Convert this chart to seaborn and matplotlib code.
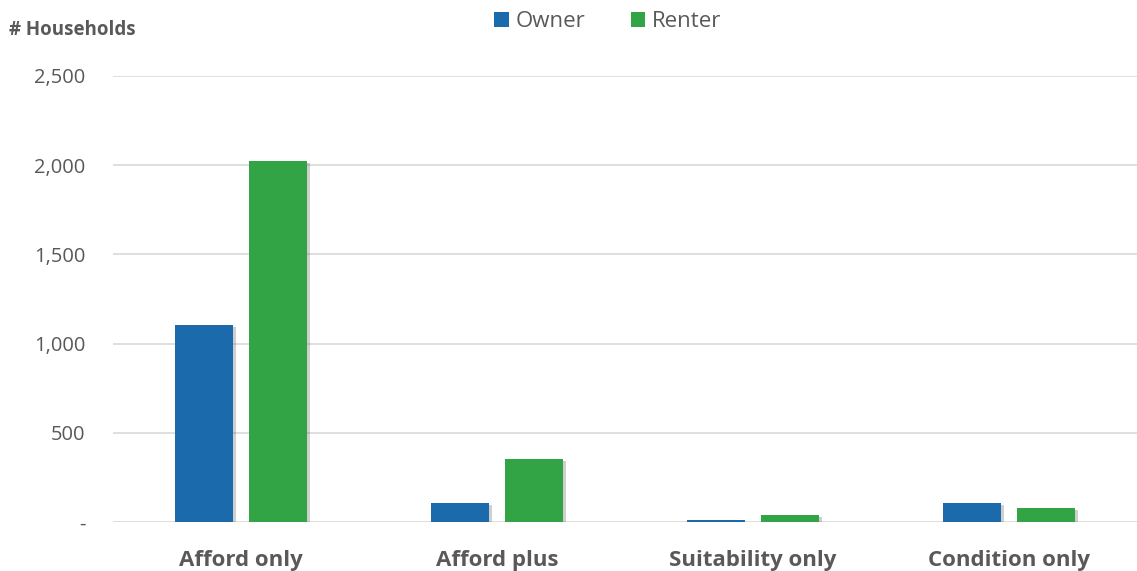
import numpy as np
import pandas as pd
import seaborn as sns
import matplotlib.pyplot as plt
import matplotlib.patheffects as pe
from matplotlib.ticker import FuncFormatter

categories = ["Afford only", "Afford plus", "Suitability only", "Condition only"]
owner = [1104, 106, 12, 108]
renter = [2024, 353, 39, 78]

df = pd.DataFrame({
    "Category": categories * 2,
    "Tenure": ["Owner"] * 4 + ["Renter"] * 4,
    "Households": owner + renter,
})

sns.set_style("white")
plt.rcParams['font.family'] = ['Open Sans', 'DejaVu Sans']
text_color = "#595959"

fig = plt.figure(figsize=(11.37, 5.71), dpi=100)
ax = fig.add_axes([0.0994, 0.0858, 0.9006, 0.7812])

sns.barplot(data=df, x="Category", y="Households", hue="Tenure",
            palette={"Owner": "#1a6aac", "Renter": "#33a446"},
            width=0.576, gap=0.21, ax=ax, saturation=1, linewidth=0, zorder=3)

# soft drop shadow like the original
for bar in ax.patches:
    bar.set_path_effects([pe.SimplePatchShadow(offset=(2, -1.5), alpha=0.25, shadow_rgbFace="#404040"),
                          pe.Normal()])

ax.set_ylim(0, 2500)
ax.set_yticks([0, 500, 1000, 1500, 2000, 2500])
ax.yaxis.set_major_formatter(FuncFormatter(lambda v, p: "-" if v == 0 else f"{v:,.0f}"))
ax.grid(axis="y", color="#d9d9d9", linewidth=1.2, zorder=0)
ax.set_axisbelow(True)
for s in ax.spines.values():
    s.set_visible(False)

ax.tick_params(axis="y", length=0, pad=20, labelsize=14.5, labelcolor=text_color)
ax.tick_params(axis="x", length=0, pad=20, labelsize=16, labelcolor=text_color)
for t in ax.get_xticklabels():
    t.set_fontweight("bold")
ax.set_xlabel("")
ax.set_ylabel("")

fig.text(0.008, 0.948, "# Households", fontsize=13.5, fontweight="bold", color=text_color, va="center")

leg = ax.legend(loc="center", bbox_to_anchor=(0.483, 1.122), ncol=2, frameon=False,
                fontsize=16, labelcolor=text_color, handlelength=0.65, handleheight=0.65,
                handletextpad=0.3, columnspacing=2.05, borderaxespad=0)
for h in leg.legend_handles:
    h.set_path_effects([])

fig.savefig("out.png", dpi=100)
